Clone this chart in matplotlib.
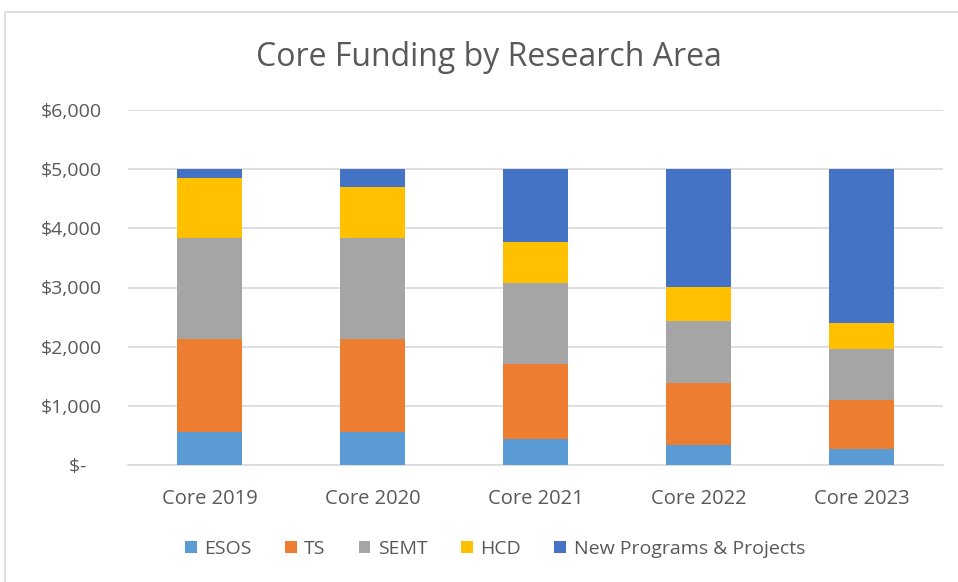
import matplotlib.pyplot as plt
import numpy as np
from matplotlib.patches import Rectangle

categories = ['Core 2019', 'Core 2020', 'Core 2021', 'Core 2022', 'Core 2023']
esos = [555, 555, 446, 333, 271]
ts = [1581, 1581, 1260, 1051, 831]
semt = [1695, 1695, 1367, 1057, 864]
hcd = [1022, 870, 695, 565, 435]
new_programs = [147, 299, 1232, 1994, 2599]

series = [
    ('ESOS', esos, '#5b9bd5'),
    ('TS', ts, '#ed7d31'),
    ('SEMT', semt, '#a5a5a5'),
    ('HCD', hcd, '#ffc000'),
    ('New Programs & Projects', new_programs, '#4472c4'),
]

text_col = '#595959'
plt.rcParams['font.family'] = ['Open Sans', 'DejaVu Sans']

fig = plt.figure(figsize=(9.58, 5.82), dpi=100)
fig.patches.append(Rectangle((5 / 958, -0.01), 1.0, 1 - 12 / 582 + 0.01, transform=fig.transFigure,
                             fill=False, edgecolor='#d9d9d9', linewidth=1.2))
ax = fig.add_axes([128 / 958, 1 - 465 / 582, (943 - 128) / 958, (465 - 110) / 582])

x = np.arange(len(categories))
bottom = np.zeros(len(categories))
for name, vals, col in series:
    ax.bar(x, vals, 0.4, bottom=bottom, color=col, label=name, zorder=3)
    bottom += np.array(vals)

ax.set_xlim(-0.5, len(categories) - 0.5)
ax.set_ylim(0, 6000)
ticks = np.arange(0, 6001, 1000)
ax.set_yticks(ticks)
ax.set_yticklabels(['$-   ' if t == 0 else f'${t:,}' for t in ticks])
ax.set_xticks(x)
ax.set_xticklabels(categories)
ax.grid(axis='y', color='#d9d9d9', linewidth=1.2, zorder=0)
for s in ['top', 'right', 'left']:
    ax.spines[s].set_visible(False)
ax.spines['bottom'].set_color('#d9d9d9')
ax.spines['bottom'].set_linewidth(1.2)
ax.tick_params(axis='y', length=0, labelsize=14, colors=text_col, pad=19)
ax.tick_params(axis='x', length=0, labelsize=14.5, colors=text_col, pad=17)

fig.text(489 / 958, 1 - 57 / 582, 'Core Funding by Research Area', ha='center', va='center',
         fontsize=23, color=text_col)

fig.legend(loc='center', bbox_to_anchor=(495 / 958, 1 - 549 / 582), ncol=5, frameon=False,
           fontsize=14, labelcolor=text_col, handlelength=0.6, handleheight=0.6,
           handletextpad=0.4, columnspacing=1.7)

fig.savefig('out.png', dpi=100)
